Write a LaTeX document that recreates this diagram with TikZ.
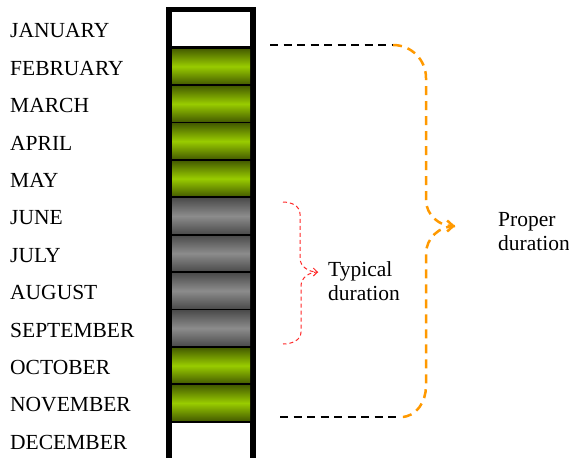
\documentclass[tikz,border=0pt]{standalone}
\usepackage{fontspec}
\setmainfont{Liberation Serif}
\usetikzlibrary{arrows.meta}

\definecolor{leafmid}{RGB}{153,204,0}
\definecolor{leafedge}{RGB}{72,96,0}
\definecolor{ashmid}{RGB}{140,140,140}
\definecolor{ashedge}{RGB}{78,78,78}
\definecolor{braceorange}{RGB}{255,153,0}
\definecolor{bracered}{RGB}{255,40,40}

\tikzset{
  monthlabel/.style={anchor=west, inner sep=0pt, font=\fontsize{21.5}{24}\selectfont},
  monthcell/.style={minimum width=78pt, minimum height=34.5pt, inner sep=0pt},
  greencell/.style={monthcell, top color=leafedge, bottom color=leafedge, middle color=leafmid},
  graycell/.style={monthcell, top color=ashedge, bottom color=ashedge, middle color=ashmid},
  whitecell/.style={monthcell, fill=white},
  spanlabel/.style={anchor=west, inner sep=0pt, align=left, font=\fontsize{21.5}{24}\selectfont},
  dashline/.style={black, line width=1.5pt, dash pattern=on 8pt off 5.5pt},
  properbrace/.style={braceorange, line width=2.5pt, dash pattern=on 9pt off 6pt},
  typicalbrace/.style={bracered, line width=1pt, dash pattern=on 4pt off 3pt}
}

\begin{document}
\begin{tikzpicture}[x=1pt, y=-1pt]
  \useasboundingbox (0,0) rectangle (569,458);
  % the year bar
  \fill[black] (166,7) rectangle (256,458);
  \node[whitecell] at (211,29) (jan) {};
  \node[greencell] at (211,66.4) (feb) {};
  \node[greencell] at (211,103.8) (mar) {};
  \node[greencell] at (211,141.2) (apr) {};
  \node[greencell] at (211,178.6) (may) {};
  \node[graycell] at (211,216) (jun) {};
  \node[graycell] at (211,253.4) (jul) {};
  \node[graycell] at (211,290.8) (aug) {};
  \node[graycell] at (211,328.2) (sep) {};
  \node[greencell] at (211,365.6) (oct) {};
  \node[greencell] at (211,403) (nov) {};
  \node[whitecell] at (211,440.4) (dec) {};

  % month names
  \node[monthlabel] at (10,31) (janL) {JANUARY};
  \node[monthlabel] at (10,68.4) (febL) {FEBRUARY};
  \node[monthlabel] at (10,105.8) (marL) {MARCH};
  \node[monthlabel] at (10,143.2) (aprL) {APRIL};
  \node[monthlabel] at (10,180.6) (mayL) {MAY};
  \node[monthlabel] at (10,218) (junL) {JUNE};
  \node[monthlabel] at (10,255.4) (julL) {JULY};
  \node[monthlabel] at (10,292.8) (augL) {AUGUST};
  \node[monthlabel] at (10,330.2) (sepL) {SEPTEMBER};
  \node[monthlabel] at (10,367.6) (octL) {OCTOBER};
  \node[monthlabel] at (10,405) (novL) {NOVEMBER};
  \node[monthlabel] at (10,442.4) (decL) {DECEMBER};

  % proper duration
  \coordinate (properA) at (270,45);
  \coordinate (properTop) at (393,45);
  \coordinate (properB) at (280,417);
  \coordinate (properBot) at (401,417);
  \coordinate (properTip) at (455,226);
  \draw[dashline] (properA) -- (properTop);
  \draw[dashline] (properB) -- (properBot);
  \draw[properbrace, -{Straight Barb[length=6pt, width=11pt]}] (properTop) to[out=0, in=90] (426,78) -- (426,200) to[out=-90, in=180] (properTip);
  \draw[properbrace] (properTip) to[out=180, in=90] (426,254) -- (426,386) to[out=-90, in=0] (properBot);
  \node[spanlabel] at (498,232) (proper) {Proper\\duration};

  % typical duration
  \coordinate (typicalTop) at (283,202);
  \coordinate (typicalBot) at (283,344);
  \coordinate (typicalTip) at (318,272);
  \draw[typicalbrace, -{Straight Barb[length=4pt, width=8pt]}] (typicalTop) to[out=0, in=90] (300,214) -- (300,258) to[out=-90, in=180] (typicalTip);
  \draw[typicalbrace] (typicalTip) to[out=180, in=90] (301,286) -- (301,332) to[out=-90, in=0] (typicalBot);
  \node[spanlabel] at (328,281) (typical) {Typical\\duration};
\end{tikzpicture}
\end{document}
